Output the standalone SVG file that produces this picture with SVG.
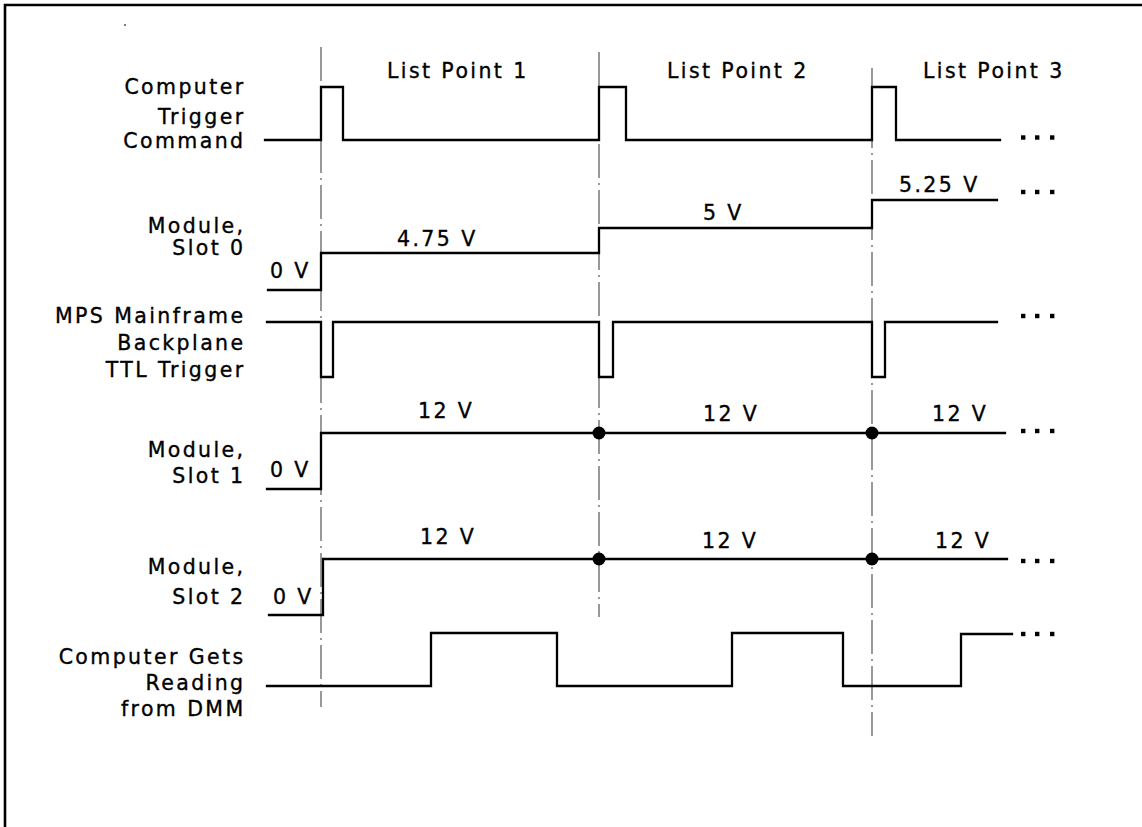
<svg xmlns="http://www.w3.org/2000/svg" xmlns:xlink="http://www.w3.org/1999/xlink" width="1142" height="827" viewBox="0 0 1142 827">
<style>
  text { font-family: "DejaVu Sans", "Liberation Sans", Arial, sans-serif; font-size: 20.5px; fill: #000; stroke: #000; stroke-width: 0.35; letter-spacing: 2.4px; }
  .lbl { text-anchor: end; }
  .sig { fill: none; stroke: #000; stroke-width: 2.3; stroke-linejoin: miter; stroke-linecap: square; }
  .mark { fill: none; stroke: #555; stroke-width: 1.2; stroke-dasharray: 34 5 2 5; }
  .frame { fill: none; stroke: #000; stroke-width: 2.6; }
  .jn { fill: #000; }
</style>
<defs>
  <g id="ell">
    <rect x="-16" y="-2.2" width="4.4" height="4.4" fill="#000"/>
    <rect x="-2" y="-2.2" width="4.4" height="4.4" fill="#000"/>
    <rect x="13" y="-2.2" width="4.4" height="4.4" fill="#000"/>
  </g>
</defs>
<rect width="1142" height="827" fill="#fff"/>
<polyline class="frame" points="5,827 5,5 1142,5"/>
<circle cx="125" cy="25" r="0.9" fill="#444"/>

<g id="connectors">
  <line class="mark" x1="321" y1="47" x2="321" y2="707"/>
  <line class="mark" x1="599" y1="52" x2="599" y2="617"/>
  <line class="mark" x1="872" y1="68" x2="872" y2="736"/>
</g>

<g id="headers">
  <text x="387" y="78">List Point 1</text>
  <text x="667" y="78">List Point 2</text>
  <text x="923" y="78">List Point 3</text>
</g>

<g id="trigger-command">
  <text class="lbl" x="245.5" y="94">Computer</text>
  <text class="lbl" x="245.5" y="124">Trigger</text>
  <text class="lbl" x="245.5" y="148">Command</text>
  <polyline class="sig" points="265,140 321,140 321,87 343,87 343,140 599,140 599,87 626,87 626,140 872,140 872,87 896,87 896,140 1000,140"/>
  <use xlink:href="#ell" x="1037" y="137.5"/>
</g>

<g id="slot0">
  <text class="lbl" x="245.5" y="233">Module,</text>
  <text class="lbl" x="245.5" y="255">Slot 0</text>
  <text x="270" y="278">0 V</text>
  <text x="397" y="246">4.75 V</text>
  <text x="703" y="220">5 V</text>
  <text x="899" y="192">5.25 V</text>
  <polyline class="sig" points="268,290 321,290 321,253 599,253 599,228 872,228 872,200 997,200"/>
  <use xlink:href="#ell" x="1037" y="192"/>
</g>

<g id="mps-trigger">
  <text class="lbl" x="245.5" y="323">MPS Mainframe</text>
  <text class="lbl" x="245.5" y="350">Backplane</text>
  <text class="lbl" x="245.5" y="377">TTL Trigger</text>
  <polyline class="sig" points="267,322 321,322 321,377 333,377 333,322 599,322 599,377 613,377 613,322 872,322 872,377 885,377 885,322 997,322"/>
  <use xlink:href="#ell" x="1037" y="316"/>
</g>

<g id="slot1">
  <text class="lbl" x="245.5" y="457">Module,</text>
  <text class="lbl" x="245.5" y="483">Slot 1</text>
  <text x="270" y="477">0 V</text>
  <text x="418" y="418">12 V</text>
  <text x="703" y="421">12 V</text>
  <text x="932" y="421">12 V</text>
  <polyline class="sig" points="267,489 321,489 321,433 1005,433"/>
  <circle class="jn" cx="599" cy="433" r="6.5"/>
  <circle class="jn" cx="872" cy="433" r="6.5"/>
  <use xlink:href="#ell" x="1037" y="431"/>
</g>

<g id="slot2">
  <text class="lbl" x="245.5" y="574">Module,</text>
  <text class="lbl" x="245.5" y="604">Slot 2</text>
  <text x="273" y="604">0 V</text>
  <text x="420" y="544">12 V</text>
  <text x="702" y="548">12 V</text>
  <text x="935" y="548">12 V</text>
  <polyline class="sig" points="269,615 323,615 323,559 1007,559"/>
  <circle class="jn" cx="599" cy="559" r="6.5"/>
  <circle class="jn" cx="872" cy="559" r="6.5"/>
  <use xlink:href="#ell" x="1037" y="561"/>
</g>

<g id="dmm-reading">
  <text class="lbl" x="245.5" y="664">Computer Gets</text>
  <text class="lbl" x="245.5" y="690">Reading</text>
  <text class="lbl" x="245.5" y="716">from DMM</text>
  <polyline class="sig" points="267,686 431,686 431,633 557,633 557,686 732,686 732,633 843,633 843,686 961,686 961,634 1012,634"/>
  <use xlink:href="#ell" x="1037" y="634"/>
</g>
</svg>
